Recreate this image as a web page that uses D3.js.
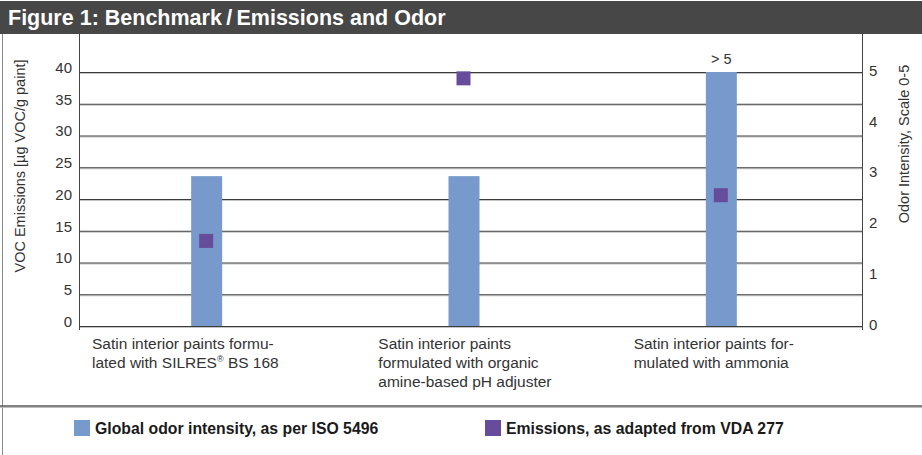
<!DOCTYPE html>
<html>
<head>
<meta charset="utf-8">
<style>
  body { margin: 0; background: #fff; }
  text { font-family: "Liberation Sans", Arial, sans-serif; }
</style>
</head>
<body>
<script src="https://cdn.jsdelivr.net/npm/d3@7/dist/d3.min.js"></script>
<script>
  // chart data
  var categories = ['silres', 'amine', 'ammonia'];
  var categoryLabels = [
    ['Satin interior paints formu-', 'lated with SILRES\u00ae BS 168'],
    ['Satin interior paints', 'formulated with organic', 'amine-based pH adjuster'],
    ['Satin interior paints for-', 'mulated with ammonia']
  ];
  var odorIntensity = [2.95, 2.95, 5];      // right axis, 0-5
  var odorNotes = ['', '', '> 5'];
  var emissions = [13.4, 39.0, 20.6];       // left axis, µg VOC/g paint
  var leftTicks = [0, 5, 10, 15, 20, 25, 30, 35, 40];
  var rightTicks = [0, 1, 2, 3, 4, 5];

  var W = 922, H = 455;
  var plot = { left: 79, right: 862, top: 34, bottom: 326 };
  var labelDx = [14, 43, 41];
  var barColor = '#7799cc', squareColor = '#674c9b';

  var svg = d3.select('body').append('svg')
    .attr('width', W)
    .attr('height', H);

  // title bar
  svg.append('rect')
    .attr('x', 0).attr('y', 1)
    .attr('width', W).attr('height', 33)
    .attr('fill', '#474747');
  svg.append('text')
    .attr('x', 8).attr('y', 25)
    .attr('fill', '#fff')
    .attr('font-size', 21.5)
    .attr('font-weight', 'bold')
    .text('Figure 1: Benchmark\u2009/\u2009Emissions and Odor');

  // frame
  svg.append('line')
    .attr('x1', 2.5).attr('x2', 2.5).attr('y1', 34).attr('y2', H)
    .attr('stroke', '#8a8a8a');
  svg.append('line')
    .attr('x1', 0).attr('x2', W).attr('y1', 406).attr('y2', 406)
    .attr('stroke', '#5a5a5a').attr('stroke-width', 1.5);
  svg.append('line')
    .attr('x1', 0).attr('x2', W).attr('y1', 407.5).attr('y2', 407.5)
    .attr('stroke', '#bdbdbd');

  var x = d3.scaleBand()
    .domain(categories)
    .range([78, 850]);

  var yLeft = d3.scaleLinear()
    .domain([0, 40])
    .range([plot.bottom, 72]);

  var yRight = d3.scaleLinear()
    .domain([0, 5])
    .range([plot.bottom, 72]);

  // gridlines (double: dark line with light shadow)
  var grid = svg.append('g');
  grid.selectAll('line.shadow')
    .data(leftTicks)
    .join('line')
      .attr('class', 'shadow')
      .attr('x1', plot.left).attr('x2', plot.right)
      .attr('y1', d => yLeft(d) + 1.5).attr('y2', d => yLeft(d) + 1.5)
      .attr('stroke', '#c4c4c4');
  grid.selectAll('line.main')
    .data(leftTicks)
    .join('line')
      .attr('class', 'main')
      .attr('x1', plot.left).attr('x2', plot.right)
      .attr('y1', d => yLeft(d) + 0.5).attr('y2', d => yLeft(d) + 0.5)
      .attr('stroke', '#3c3c3c');

  // bars
  var cx = c => x(c) + x.bandwidth() / 2;
  svg.append('g')
    .selectAll('rect')
    .data(categories)
    .join('rect')
      .attr('x', d => cx(d) - 15.5)
      .attr('width', 31)
      .attr('y', (d, i) => yRight(odorIntensity[i]))
      .attr('height', (d, i) => yRight(0) - yRight(odorIntensity[i]))
      .attr('fill', barColor);

  svg.append('g')
    .selectAll('text')
    .data(categories)
    .join('text')
      .attr('x', d => cx(d))
      .attr('y', (d, i) => yRight(odorIntensity[i]) - 8)
      .attr('text-anchor', 'middle')
      .attr('font-size', 14.5)
      .attr('fill', '#333')
      .text((d, i) => odorNotes[i]);

  // emission squares
  svg.append('g')
    .selectAll('rect')
    .data(categories)
    .join('rect')
      .attr('x', d => cx(d) - 7.5)
      .attr('y', (d, i) => yLeft(emissions[i]) - 7)
      .attr('width', 14).attr('height', 14)
      .attr('fill', squareColor);

  // axis lines
  [plot.left, plot.right].forEach(function(px) {
    svg.append('line')
      .attr('x1', px + 0.5).attr('x2', px + 0.5)
      .attr('y1', plot.top).attr('y2', 330)
      .attr('stroke', '#444');
  });

  // tick labels
  var gl = svg.append('g')
    .attr('transform', 'translate(' + plot.left + ',0)')
    .call(d3.axisLeft(yLeft).tickValues(leftTicks).tickSize(0).tickPadding(7));
  gl.select('.domain').remove();
  gl.selectAll('text')
    .attr('font-size', 15).attr('fill', '#333').attr('dy', '0.02em')
    .style('font-family', '"Liberation Sans", Arial, sans-serif');

  var gr = svg.append('g')
    .attr('transform', 'translate(' + plot.right + ',0)')
    .call(d3.axisRight(yRight).tickValues(rightTicks).tickFormat(d3.format('d'))
      .tickSize(0).tickPadding(7));
  gr.select('.domain').remove();
  gr.selectAll('text')
    .attr('font-size', 15).attr('fill', '#333').attr('dy', '0.22em')
    .style('font-family', '"Liberation Sans", Arial, sans-serif');

  // axis titles
  svg.append('text')
    .attr('transform', 'translate(25,166) rotate(-90)')
    .attr('text-anchor', 'middle')
    .attr('font-size', 14.5)
    .attr('fill', '#333')
    .text('VOC Emissions [\u00b5g VOC/g paint]');
  svg.append('text')
    .attr('transform', 'translate(909,144) rotate(-90)')
    .attr('text-anchor', 'middle')
    .attr('font-size', 14.5)
    .attr('fill', '#333')
    .text('Odor Intensity, Scale 0-5');

  // category labels
  var cl = svg.append('g')
    .selectAll('text')
    .data(categories)
    .join('text')
      .attr('font-size', 15.5)
      .attr('fill', '#333');
  cl.each(function(d, i) {
    var t = d3.select(this);
    categoryLabels[i].forEach(function(line, j) {
      var parts = line.split('\u00ae');
      t.append('tspan')
        .attr('x', x(d) + labelDx[i])
        .attr('y', 349 + j * 19)
        .text(parts[0]);
      if (parts.length > 1) {
        t.append('tspan')
          .attr('font-size', 9)
          .attr('dy', -6)
          .text('\u00ae');
        t.append('tspan')
          .attr('dy', 6)
          .text(parts[1]);
      }
    });
  });

  // legend
  var legendItems = [
    { label: 'Global odor intensity, as per ISO 5496', color: barColor, x: 74 },
    { label: 'Emissions, as adapted from VDA 277', color: squareColor, x: 485 }
  ];
  var lg = svg.append('g')
    .selectAll('g')
    .data(legendItems)
    .join('g')
      .attr('transform', d => 'translate(' + d.x + ',420)');
  lg.append('rect')
    .attr('width', 16).attr('height', 16)
    .attr('fill', d => d.color);
  lg.append('text')
    .attr('x', 21).attr('y', 13.5)
    .attr('font-size', 15.8)
    .attr('font-weight', 'bold')
    .attr('fill', '#1a1a1a')
    .text(d => d.label);
</script>
</body>
</html>
